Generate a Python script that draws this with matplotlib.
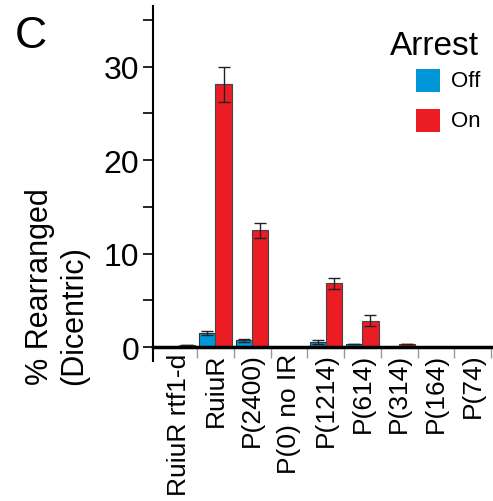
import numpy as np
import matplotlib.pyplot as plt
from matplotlib.patches import Rectangle

plt.rcParams['font.family'] = ['Liberation Sans', 'DejaVu Sans']

categories = ['RuiuR rtf1-d', 'RuiuR', 'P(2400)', 'P(0) no IR', 'P(1214)',
              'P(614)', 'P(314)', 'P(164)', 'P(74)']
off_vals = [0.0, 1.5, 0.7, 0.0, 0.55, 0.35, 0.0, 0.0, 0.0]
off_err = [0.0, 0.2, 0.2, 0.0, 0.2, 0.0, 0.0, 0.0, 0.0]
on_vals = [0.2, 28.1, 12.5, 0.0, 6.8, 2.8, 0.35, 0.0, 0.0]
on_err = [0.0, 1.9, 0.8, 0.0, 0.6, 0.6, 0.0, 0.0, 0.0]
legend_labels = ['Off', 'On']

blue = '#0096d8'
red = '#ec1c24'

W, H = 493, 502
fig = plt.figure(figsize=(W / 100, H / 100), dpi=100)
# axes: x from 153 to 491 px, y from 348 (zero) up to 7 px
ax = fig.add_axes([153 / W, 1 - 348 / H, 338 / W, 341 / H])

x = np.arange(len(categories))
w = 0.44
ax.bar(x - w / 2, off_vals, w, color=blue, edgecolor='#333333', linewidth=0.8,
       yerr=off_err, error_kw=dict(ecolor='#222222', elinewidth=1, capsize=4, capthick=1))
ax.bar(x + w / 2, on_vals, w, color=red, edgecolor='#444444', linewidth=0.8,
       yerr=on_err, error_kw=dict(ecolor='#222222', elinewidth=1, capsize=4.5, capthick=1))

ax.set_xlim(-0.7, len(categories) - 0.5)
ax.set_ylim(0, 36.5)
ax.spines['top'].set_visible(False)
ax.spines['right'].set_visible(False)
ax.spines['left'].set_linewidth(1.5)
ax.spines['bottom'].set_linewidth(2.5)
ax.spines['left'].set_bounds(-1.5, 36.5)

ax.set_yticks([0, 10, 20, 30])
ax.set_yticks([5, 15, 25, 35], minor=True)
ax.tick_params(axis='y', which='both', labelsize=23, width=1.2, length=7,
               direction='out', pad=3)
ax.set_xticks(x)
ax.set_xticklabels(categories, rotation=90, ha='center', va='top', fontsize=19)
ax.tick_params(axis='x', length=0, pad=4)
# separator ticks between categories
ax.set_xticks(np.arange(len(categories)) + 0.5, minor=True)
ax.tick_params(axis='x', which='minor', length=8, width=1, color='#999999')

fig.text(57 / W, 1 - 385 / H, '% Rearranged\n(Dicentric)', fontsize=22,
         rotation=90, ha='center', va='bottom', multialignment='left',
         linespacing=1.15)

# legend
fig.text(390 / W, 1 - 55 / H, 'Arrest', fontsize=24, ha='left', va='baseline')
for i, (lab, col) in enumerate(zip(legend_labels, [blue, red])):
    y0 = 70 + i * 40
    fig.add_artist(Rectangle((416 / W, 1 - (y0 + 23) / H), 24 / W, 23 / H,
                             transform=fig.transFigure, facecolor=col,
                             edgecolor='none'))
    fig.text(451 / W, 1 - (y0 + 11.5) / H, lab, fontsize=16, ha='left', va='center')

fig.text(15 / W, 1 - 48 / H, 'C', fontsize=32, ha='left', va='baseline')

fig.savefig('out.png', dpi=100)
